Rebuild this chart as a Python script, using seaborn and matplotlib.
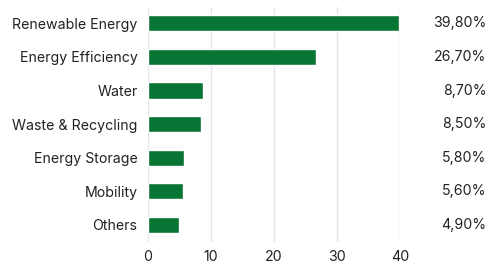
import matplotlib
matplotlib.use("Agg")
import matplotlib.pyplot as plt
import matplotlib.transforms as mtransforms
import seaborn as sns
import pandas as pd

# Data
categories = [
    "Renewable Energy",
    "Energy Efficiency",
    "Water",
    "Waste & Recycling",
    "Energy Storage",
    "Mobility",
    "Others",
]
shares = [39.8, 26.7, 8.7, 8.5, 5.8, 5.6, 4.9]
value_labels = ["39,80%", "26,70%", "8,70%", "8,50%", "5,80%", "5,60%", "4,90%"]
x_ticks = [0, 10, 20, 30, 40]

df = pd.DataFrame({"category": categories, "share": shares})

sns.set_theme(style="white")
plt.rcParams["font.family"] = ["Inter", "DejaVu Sans"]

fig = plt.figure(figsize=(4.88, 2.64), dpi=100)
ax = fig.add_axes([0.303, 0.085, 0.517, 0.89])

sns.barplot(data=df, x="share", y="category", color="#097534",
            saturation=1, width=0.48, ax=ax, zorder=3)

ax.set_xlim(0, 40)
ax.set_xticks(x_ticks)
ax.grid(axis="x", color="#e3e5ec", linewidth=1, zorder=0)
ax.set_xlabel("")
ax.set_ylabel("")
for side in ["top", "right", "bottom", "left"]:
    ax.spines[side].set_visible(False)
ax.tick_params(axis="y", length=0, pad=7.5, labelsize=10.2, labelcolor="#222222")
ax.tick_params(axis="x", length=0, pad=6, labelsize=10.2, labelcolor="#222222")

# Percentage labels at the right edge of the figure
trans = mtransforms.blended_transform_factory(fig.transFigure, ax.transData)
for i, lab in enumerate(value_labels):
    ax.text(0.997, i, lab, transform=trans, ha="right", va="center",
            fontsize=10.2, color="#222222")

fig.savefig("out.png", dpi=100)
